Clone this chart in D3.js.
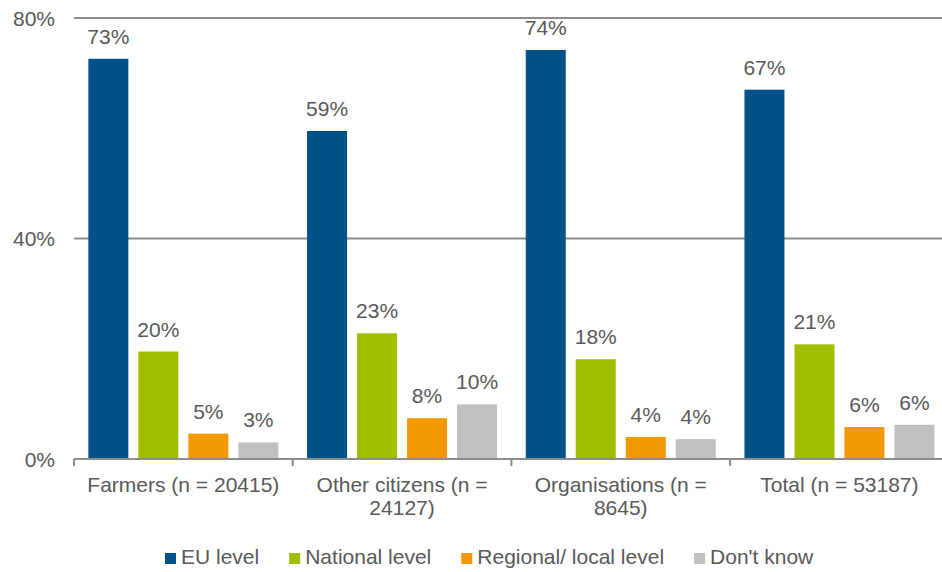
<!DOCTYPE html>
<html>
<head>
<meta charset="utf-8">
<script src="https://cdn.jsdelivr.net/npm/d3@7"></script>
<style>
  html, body { margin: 0; padding: 0; background: #fff; }
  svg { display: block; font-family: "Liberation Sans", Arial, sans-serif; }
</style>
</head>
<body>
<svg id="chart" width="942" height="572"></svg>
<script>
const categories = ["Farmers (n = 20415)", "Other citizens (n = 24127)", "Organisations (n = 8645)", "Total (n = 53187)"];
const seriesNames = ["EU level", "National level", "Regional/ local level", "Don't know"];
const seriesColors = ["#005288", "#9FBE00", "#F39800", "#BEC1C0"];
const euLevel = [72.6, 59.5, 74.2, 67.0];
const nationalLevel = [19.5, 22.8, 18.1, 20.8];
const regionalLevel = [4.6, 7.4, 4.0, 5.8];
const dontKnow = [3.0, 9.9, 3.6, 6.2];
const valueLabels = [
  ["73%", "20%", "5%", "3%"],
  ["59%", "23%", "8%", "10%"],
  ["74%", "18%", "4%", "4%"],
  ["67%", "21%", "6%", "6%"]
];
const yTicks = [0, 40, 80];

(function () {
const seriesValues = [euLevel, nationalLevel, regionalLevel, dontKnow];
const svg = d3.select("#chart");
const textColor = "#595959";
const lineColor = "#8C8C8C";
const fontSize = 21;

const plotLeft = 74, step = 218.7, plotBottom = 459, plotTop = 18;
const x0 = d3.scaleBand().domain(categories).range([plotLeft, plotLeft + step * categories.length]).padding(0);
const groupW = 190;
const off = (x0.bandwidth() - groupW) / 2;
const x1 = d3.scaleBand().domain(seriesNames).range([off, off + groupW]).paddingInner(0.2).paddingOuter(0);
const y = d3.scaleLinear().domain([0, 80]).range([plotBottom, plotTop]);

// gridlines
svg.append("g").selectAll("line").data(yTicks.filter(d => d > 0)).join("line")
  .attr("x1", plotLeft).attr("x2", 942)
  .attr("y1", d => y(d)).attr("y2", d => y(d))
  .attr("stroke", lineColor).attr("stroke-width", 2);

// y tick labels
svg.append("g").selectAll("text").data(yTicks).join("text")
  .attr("x", 55).attr("y", d => y(d)).attr("dy", "0.36em")
  .attr("text-anchor", "end").attr("font-size", fontSize).attr("fill", textColor)
  .text(d => d + "%");

// bars
const rows = [];
categories.forEach((c, i) => {
  seriesNames.forEach((s, j) => {
    rows.push({ cat: c, ser: s, v: seriesValues[j][i], label: valueLabels[i][j], color: seriesColors[j] });
  });
});
svg.append("g").selectAll("rect").data(rows).join("rect")
  .attr("x", d => x0(d.cat) + x1(d.ser))
  .attr("width", x1.bandwidth())
  .attr("y", d => y(d.v))
  .attr("height", d => plotBottom - y(d.v))
  .attr("fill", d => d.color);

svg.append("g").selectAll("text").data(rows).join("text")
  .attr("x", d => x0(d.cat) + x1(d.ser) + x1.bandwidth() / 2)
  .attr("y", d => y(d.v) - 15)
  .attr("text-anchor", "middle").attr("font-size", fontSize).attr("fill", textColor)
  .text(d => d.label);

// x axis
const axisG = svg.append("g");
axisG.append("line").attr("x1", plotLeft).attr("x2", plotLeft + step * categories.length)
  .attr("y1", plotBottom).attr("y2", plotBottom).attr("stroke", lineColor).attr("stroke-width", 2);
const bounds = categories.map(c => x0(c)).concat([plotLeft + step * categories.length]);
axisG.selectAll("line.tick").data(bounds).join("line").attr("class", "tick")
  .attr("x1", d => d).attr("x2", d => d).attr("y1", plotBottom).attr("y2", plotBottom + 7)
  .attr("stroke", lineColor).attr("stroke-width", 2);

// category labels with wrap
const maxW = 205;
categories.forEach(c => {
  const cx = x0(c) + x0.bandwidth() / 2;
  const t = axisG.append("text").attr("x", cx).attr("y", 492)
    .attr("text-anchor", "middle").attr("font-size", fontSize).attr("fill", textColor);
  const words = c.split(" ");
  let line = [];
  let tspan = t.append("tspan").attr("x", cx).attr("dy", 0);
  words.forEach(w => {
    line.push(w);
    tspan.text(line.join(" "));
    if (tspan.node().getComputedTextLength() > maxW && line.length > 1) {
      line.pop();
      tspan.text(line.join(" "));
      line = [w];
      tspan = t.append("tspan").attr("x", cx).attr("dy", 23).text(w);
    }
  });
});

// legend
const legend = svg.append("g");
let lx = 165;
seriesNames.forEach((s, j) => {
  legend.append("rect").attr("x", lx).attr("y", 553).attr("width", 11).attr("height", 11).attr("fill", seriesColors[j]);
  const t = legend.append("text").attr("x", lx + 16).attr("y", 564)
    .attr("font-size", fontSize).attr("fill", textColor).text(s);
  lx += 16 + t.node().getComputedTextLength() + 30;
});
})();
</script>
</body>
</html>
